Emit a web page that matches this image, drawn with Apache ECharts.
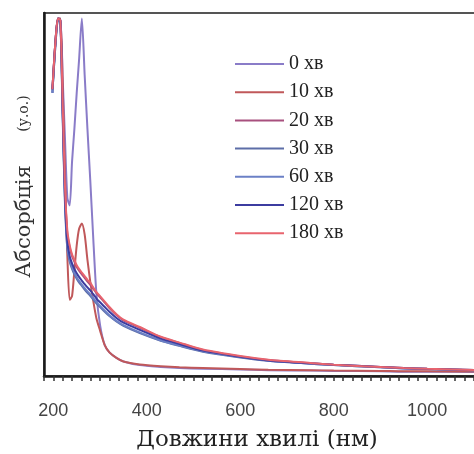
<!DOCTYPE html>
<html>
<head>
<meta charset="utf-8">
<script src="https://cdn.jsdelivr.net/npm/echarts@6/dist/echarts.min.js"></script>
<style>
  html, body { margin: 0; padding: 0; background: #fff; }
  #chart { width: 474px; height: 454px; }
</style>
</head>
<body>
<div id="chart"></div>
<script>
// Спектри поглинання — довжина хвилі (нм) / абсорбція (у.о.)
const WAVELENGTH = [198, 205, 210, 215, 220, 225, 230, 235, 240, 245, 250, 255, 261, 267, 273, 279, 285, 292, 300, 310, 320, 335, 350, 385, 430, 470, 520, 600, 660, 750, 800, 900, 950, 1000, 1120];

const SERIES_NAMES = ['0 хв', '10 хв', '20 хв', '30 хв', '60 хв', '120 хв', '180 хв'];
const SERIES_COLORS = ['#8a7cc8', '#c0585a', '#a8507e', '#5d6ea8', '#6b80c6', '#3c3ca0', '#e8646e'];

const ABS_0 = [0.78, 0.93, 0.985, 0.985, 0.82, 0.65, 0.49, 0.47, 0.59, 0.68, 0.78, 0.87, 0.985, 0.83, 0.68, 0.54, 0.39, 0.23, 0.14, 0.085, 0.065, 0.05, 0.04, 0.03, 0.025, 0.022, 0.02, 0.018, 0.016, 0.015, 0.014, 0.013, 0.012, 0.012, 0.011];
const ABS_10 = [0.79, 0.93, 0.985, 0.985, 0.80, 0.55, 0.33, 0.21, 0.22, 0.29, 0.36, 0.405, 0.42, 0.39, 0.32, 0.26, 0.21, 0.16, 0.125, 0.085, 0.065, 0.05, 0.04, 0.032, 0.027, 0.024, 0.022, 0.019, 0.017, 0.016, 0.015, 0.014, 0.013, 0.013, 0.012];
const ABS_20 = [0.79, 0.93, 0.985, 0.98, 0.74, 0.51, 0.39, 0.355, 0.33, 0.315, 0.30, 0.29, 0.28, 0.27, 0.26, 0.252, 0.241, 0.229, 0.217, 0.202, 0.187, 0.168, 0.153, 0.133, 0.107, 0.091, 0.072, 0.054, 0.044, 0.035, 0.031, 0.025, 0.022, 0.02, 0.016];
const ABS_30 = [0.78, 0.92, 0.98, 0.975, 0.71, 0.47, 0.35, 0.315, 0.295, 0.28, 0.268, 0.258, 0.248, 0.238, 0.229, 0.221, 0.211, 0.2, 0.19, 0.177, 0.165, 0.15, 0.138, 0.118, 0.097, 0.083, 0.067, 0.051, 0.042, 0.034, 0.03, 0.024, 0.021, 0.019, 0.015];
const ABS_60 = [0.78, 0.92, 0.98, 0.975, 0.72, 0.48, 0.36, 0.32, 0.30, 0.285, 0.272, 0.262, 0.252, 0.242, 0.233, 0.225, 0.215, 0.204, 0.193, 0.18, 0.167, 0.152, 0.14, 0.12, 0.098, 0.084, 0.068, 0.052, 0.042, 0.034, 0.03, 0.024, 0.021, 0.019, 0.015];
const ABS_120 = [0.79, 0.93, 0.985, 0.98, 0.73, 0.49, 0.37, 0.33, 0.31, 0.295, 0.283, 0.273, 0.263, 0.253, 0.244, 0.236, 0.226, 0.214, 0.203, 0.19, 0.177, 0.16, 0.147, 0.127, 0.103, 0.088, 0.07, 0.053, 0.043, 0.035, 0.031, 0.025, 0.022, 0.02, 0.016];
const ABS_180 = [0.79, 0.93, 0.985, 0.98, 0.75, 0.52, 0.40, 0.36, 0.335, 0.32, 0.305, 0.295, 0.285, 0.275, 0.265, 0.257, 0.245, 0.232, 0.22, 0.205, 0.19, 0.17, 0.155, 0.135, 0.108, 0.092, 0.073, 0.055, 0.045, 0.036, 0.031, 0.025, 0.022, 0.02, 0.016];

const ABSORBANCE = [ABS_0, ABS_10, ABS_20, ABS_30, ABS_60, ABS_120, ABS_180];

const X_LABELS = [200, 400, 600, 800, 1000];

// min кратне інтервалу 20 → риски кожні 20 нм
const X_MIN = 180, X_MAX = 1126, X_STEP = 20;

const chart = echarts.init(document.getElementById('chart'), null, { renderer: 'canvas' });

chart.setOption({
  animation: false,
  backgroundColor: '#fff',
  grid: {
    left: 44, top: 13, right: -12, bottom: 78,
    outerBoundsMode: 'none', containLabel: false,
    show: true, borderColor: '#555', borderWidth: 2, backgroundColor: 'transparent',
  },
  legend: {
    orient: 'vertical', left: 230, top: 49,
    icon: 'rect', itemWidth: 49, itemHeight: 2, itemGap: 8.2, itemTextGap: 8,
    data: SERIES_NAMES,
    textStyle: { fontFamily: 'Liberation Serif', fontSize: 20, lineHeight: 20, color: '#222' },
  },
  xAxis: {
    type: 'value', min: X_MIN, max: X_MAX, interval: X_STEP, position: 'bottom',
    name: 'Довжини хвилі (нм)', nameLocation: 'middle', nameGap: 53,
    nameTextStyle: { fontFamily: 'DejaVu Serif', fontSize: 23, color: '#222', padding: [0, 16, 0, 0] },
    axisLine: { show: true, onZero: false, lineStyle: { color: '#1a1a1a', width: 2.5 } },
    axisTick: { show: true, length: 5, lineStyle: { color: '#333', width: 1.5 } },
    axisLabel: {
      customValues: X_LABELS, margin: 26, formatter: v => String(v),
      fontFamily: 'Liberation Sans', fontSize: 18, color: '#444',
    },
    splitLine: { show: false },
  },
  yAxis: {
    type: 'value', min: 0, max: 1,
    name: '{a|Абсорбція}          {b|(у.о.)}', nameLocation: 'middle', nameGap: 9,
    nameTextStyle: {
      color: '#333', padding: [0, 0, 0, 16],
      rich: {
        a: { fontFamily: 'DejaVu Serif', fontSize: 21, color: '#333' },
        b: { fontFamily: 'DejaVu Serif', fontSize: 14, color: '#333' },
      },
    },
    axisLine: { show: true, lineStyle: { color: '#1a1a1a', width: 2.5 } },
    axisTick: { show: false },
    axisLabel: { show: false },
    splitLine: { show: false },
  },
  series: SERIES_NAMES.map((name, i) => ({
    name, type: 'line',
    data: WAVELENGTH.map((w, j) => [w, ABSORBANCE[i][j]]),
    smooth: 0.25, showSymbol: false,
    color: SERIES_COLORS[i],
    lineStyle: { width: 2, color: SERIES_COLORS[i] },
  })),
});
</script>
</body>
</html>
